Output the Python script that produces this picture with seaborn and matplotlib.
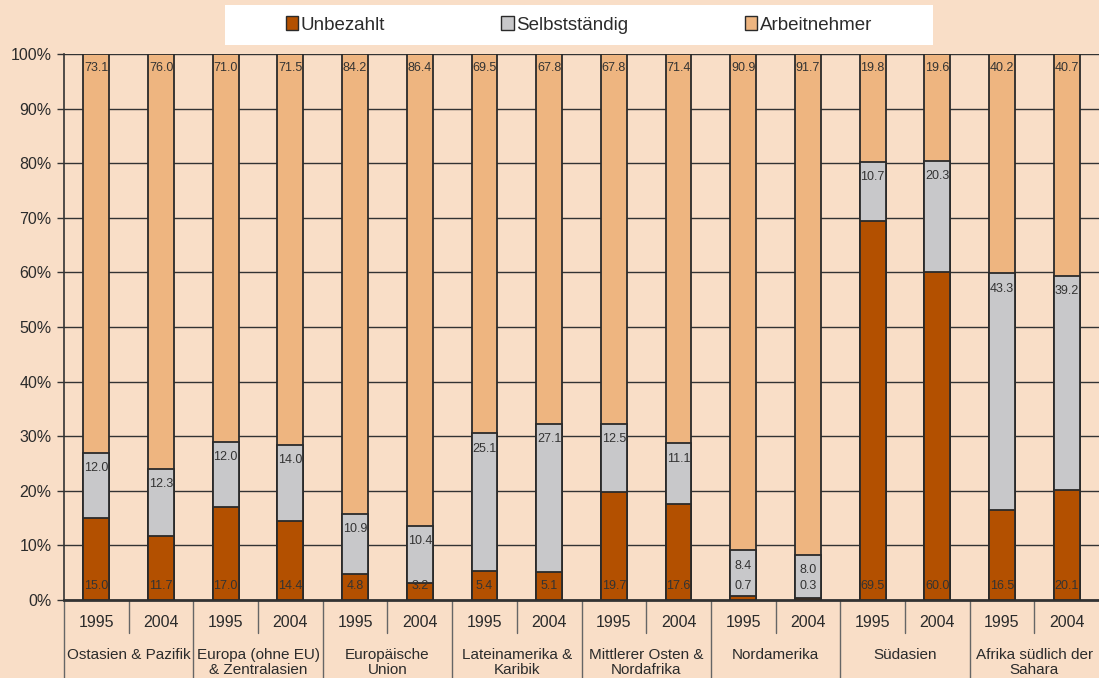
import numpy as np
import pandas as pd
import matplotlib
matplotlib.use("Agg")
import matplotlib.pyplot as plt
from matplotlib.patches import Patch, Rectangle
import seaborn as sns

# Beschäftigungsstruktur nach Region, Anteile in Prozent
regions = ["Ostasien & Pazifik", "Europa (ohne EU)\n& Zentralasien", "Europäische\nUnion",
           "Lateinamerika &\nKaribik", "Mittlerer Osten &\nNordafrika", "Nordamerika",
           "Südasien", "Afrika südlich der\nSahara"]
years = ["1995", "2004"]
unbezahlt = [15.0, 11.7, 17.0, 14.4, 4.8, 3.2, 5.4, 5.1, 19.7, 17.6, 0.7, 0.3, 69.5, 60.0, 16.5, 20.1]
selbststaendig = [12.0, 12.3, 12.0, 14.0, 10.9, 10.4, 25.1, 27.1, 12.5, 11.1, 8.4, 8.0, 10.7, 20.3, 43.3, 39.2]
arbeitnehmer = [73.1, 76.0, 71.0, 71.5, 84.2, 86.4, 69.5, 67.8, 67.8, 71.4, 90.9, 91.7, 19.8, 19.6, 40.2, 40.7]
series_names = ["Unbezahlt", "Selbstständig", "Arbeitnehmer"]

c_unb, c_sel, c_arb = "#B35000", "#C8C8CA", "#EEB580"
bg = "#F9DEC7"
txt = "#2b2b2b"

u = np.array(unbezahlt)
s = np.array(selbststaendig)
a = np.array(arbeitnehmer)
tot = u + s + a
# 100%-Stapel: auf die Summe normieren
u_p, s_p, a_p = u / tot * 100, s / tot * 100, a / tot * 100

n = len(u)
keys = [f"{i:02d}" for i in range(n)]
df = pd.DataFrame({
    "key": keys,
    "cum3": u_p + s_p + a_p,
    "cum2": u_p + s_p,
    "cum1": u_p,
})

sns.set_theme(style="white")
plt.rcParams["font.family"] = ["Liberation Sans", "DejaVu Sans"]

fig = plt.figure(figsize=(10.99, 6.78), dpi=100, facecolor=bg)
ax = fig.add_axes([64 / 1099, 1 - 600 / 678, 1 - 64 / 1099, 546 / 678])
ax.set_facecolor(bg)

edge = dict(edgecolor="#2a2a2a", linewidth=1.3, width=0.40, zorder=3)
sns.barplot(data=df, x="key", y="cum3", order=keys, color=c_arb, saturation=1, ax=ax, **edge)
sns.barplot(data=df, x="key", y="cum2", order=keys, color=c_sel, saturation=1, ax=ax, **edge)
sns.barplot(data=df, x="key", y="cum1", order=keys, color=c_unb, saturation=1, ax=ax, **edge)

ax.set_xlim(-0.5, n - 0.5)
ax.set_ylim(0, 100)
ax.set_xlabel("")
ax.set_ylabel("")

# Gitternetz
ax.set_yticks(np.arange(0, 101, 10))
ax.set_yticklabels([f"{v}%" for v in range(0, 101, 10)], fontsize=11.5, color=txt)
ax.yaxis.grid(True, color="#333333", linewidth=1.0, zorder=0)
ax.set_axisbelow(True)
ax.tick_params(axis="y", length=5, width=1, color="#333333", pad=4, left=True)

ax.set_xticks(range(n))
ax.set_xticklabels([years[i % 2] for i in range(n)], fontsize=11.5, color=txt)
ax.tick_params(axis="x", length=0, pad=11)

for side in ["top", "right"]:
    ax.spines[side].set_visible(False)
ax.spines["left"].set_color("#333333")
ax.spines["left"].set_linewidth(1.2)
ax.spines["bottom"].set_color("#333333")
ax.spines["bottom"].set_linewidth(2.0)

# Trennlinien und Regionsbeschriftungen unter der Achse
tr = ax.get_xaxis_transform()
ax.plot([-0.5, -0.5], [0, -0.16], transform=tr, color="#666666", lw=1.0, clip_on=False)
for i in range(n - 1):
    xb = i + 0.5
    y_end = -0.06 if i % 2 == 0 else -0.16
    ax.plot([xb, xb], [0, y_end], transform=tr, color="#666666", lw=1.0, clip_on=False)
for g, name in enumerate(regions):
    ax.text(2 * g + 0.5, -0.088, name, transform=tr, ha="center", va="top",
            fontsize=11, color=txt, linespacing=1.05, clip_on=False)

# Wertebeschriftungen
lab = dict(ha="center", fontsize=9, color="#333333", zorder=5)
for i in range(n):
    ax.annotate(f"{a[i]:.1f}", (i, df["cum3"][i]), xytext=(0, -10),
                textcoords="offset points", va="center", **lab)
    ax.annotate(f"{s[i]:.1f}", (i, df["cum2"][i]), xytext=(0, -11),
                textcoords="offset points", va="center", **lab)
    ax.annotate(f"{u[i]:.1f}", (i, 0), xytext=(0, 10),
                textcoords="offset points", va="center", **lab)

# Legende auf weißem Feld
fig.patches.append(Rectangle((225 / 1099, 1 - 45 / 678), 708 / 1099, 40 / 678,
                             transform=fig.transFigure, facecolor="white",
                             edgecolor="none", zorder=1))
handles = [Patch(facecolor=c, edgecolor="#2a2a2a", linewidth=1.0) for c in (c_unb, c_sel, c_arb)]
leg = fig.legend(handles, series_names, loc="center",
                 bbox_to_anchor=(579 / 1099, 1 - 25 / 678),
                 ncol=3, frameon=False, fontsize=13.5,
                 handlelength=0.65, handleheight=0.75, handletextpad=0.15,
                 columnspacing=6.2, borderaxespad=0)
for t in leg.get_texts():
    t.set_color(txt)

fig.savefig("out.png", dpi=100, facecolor=bg)
